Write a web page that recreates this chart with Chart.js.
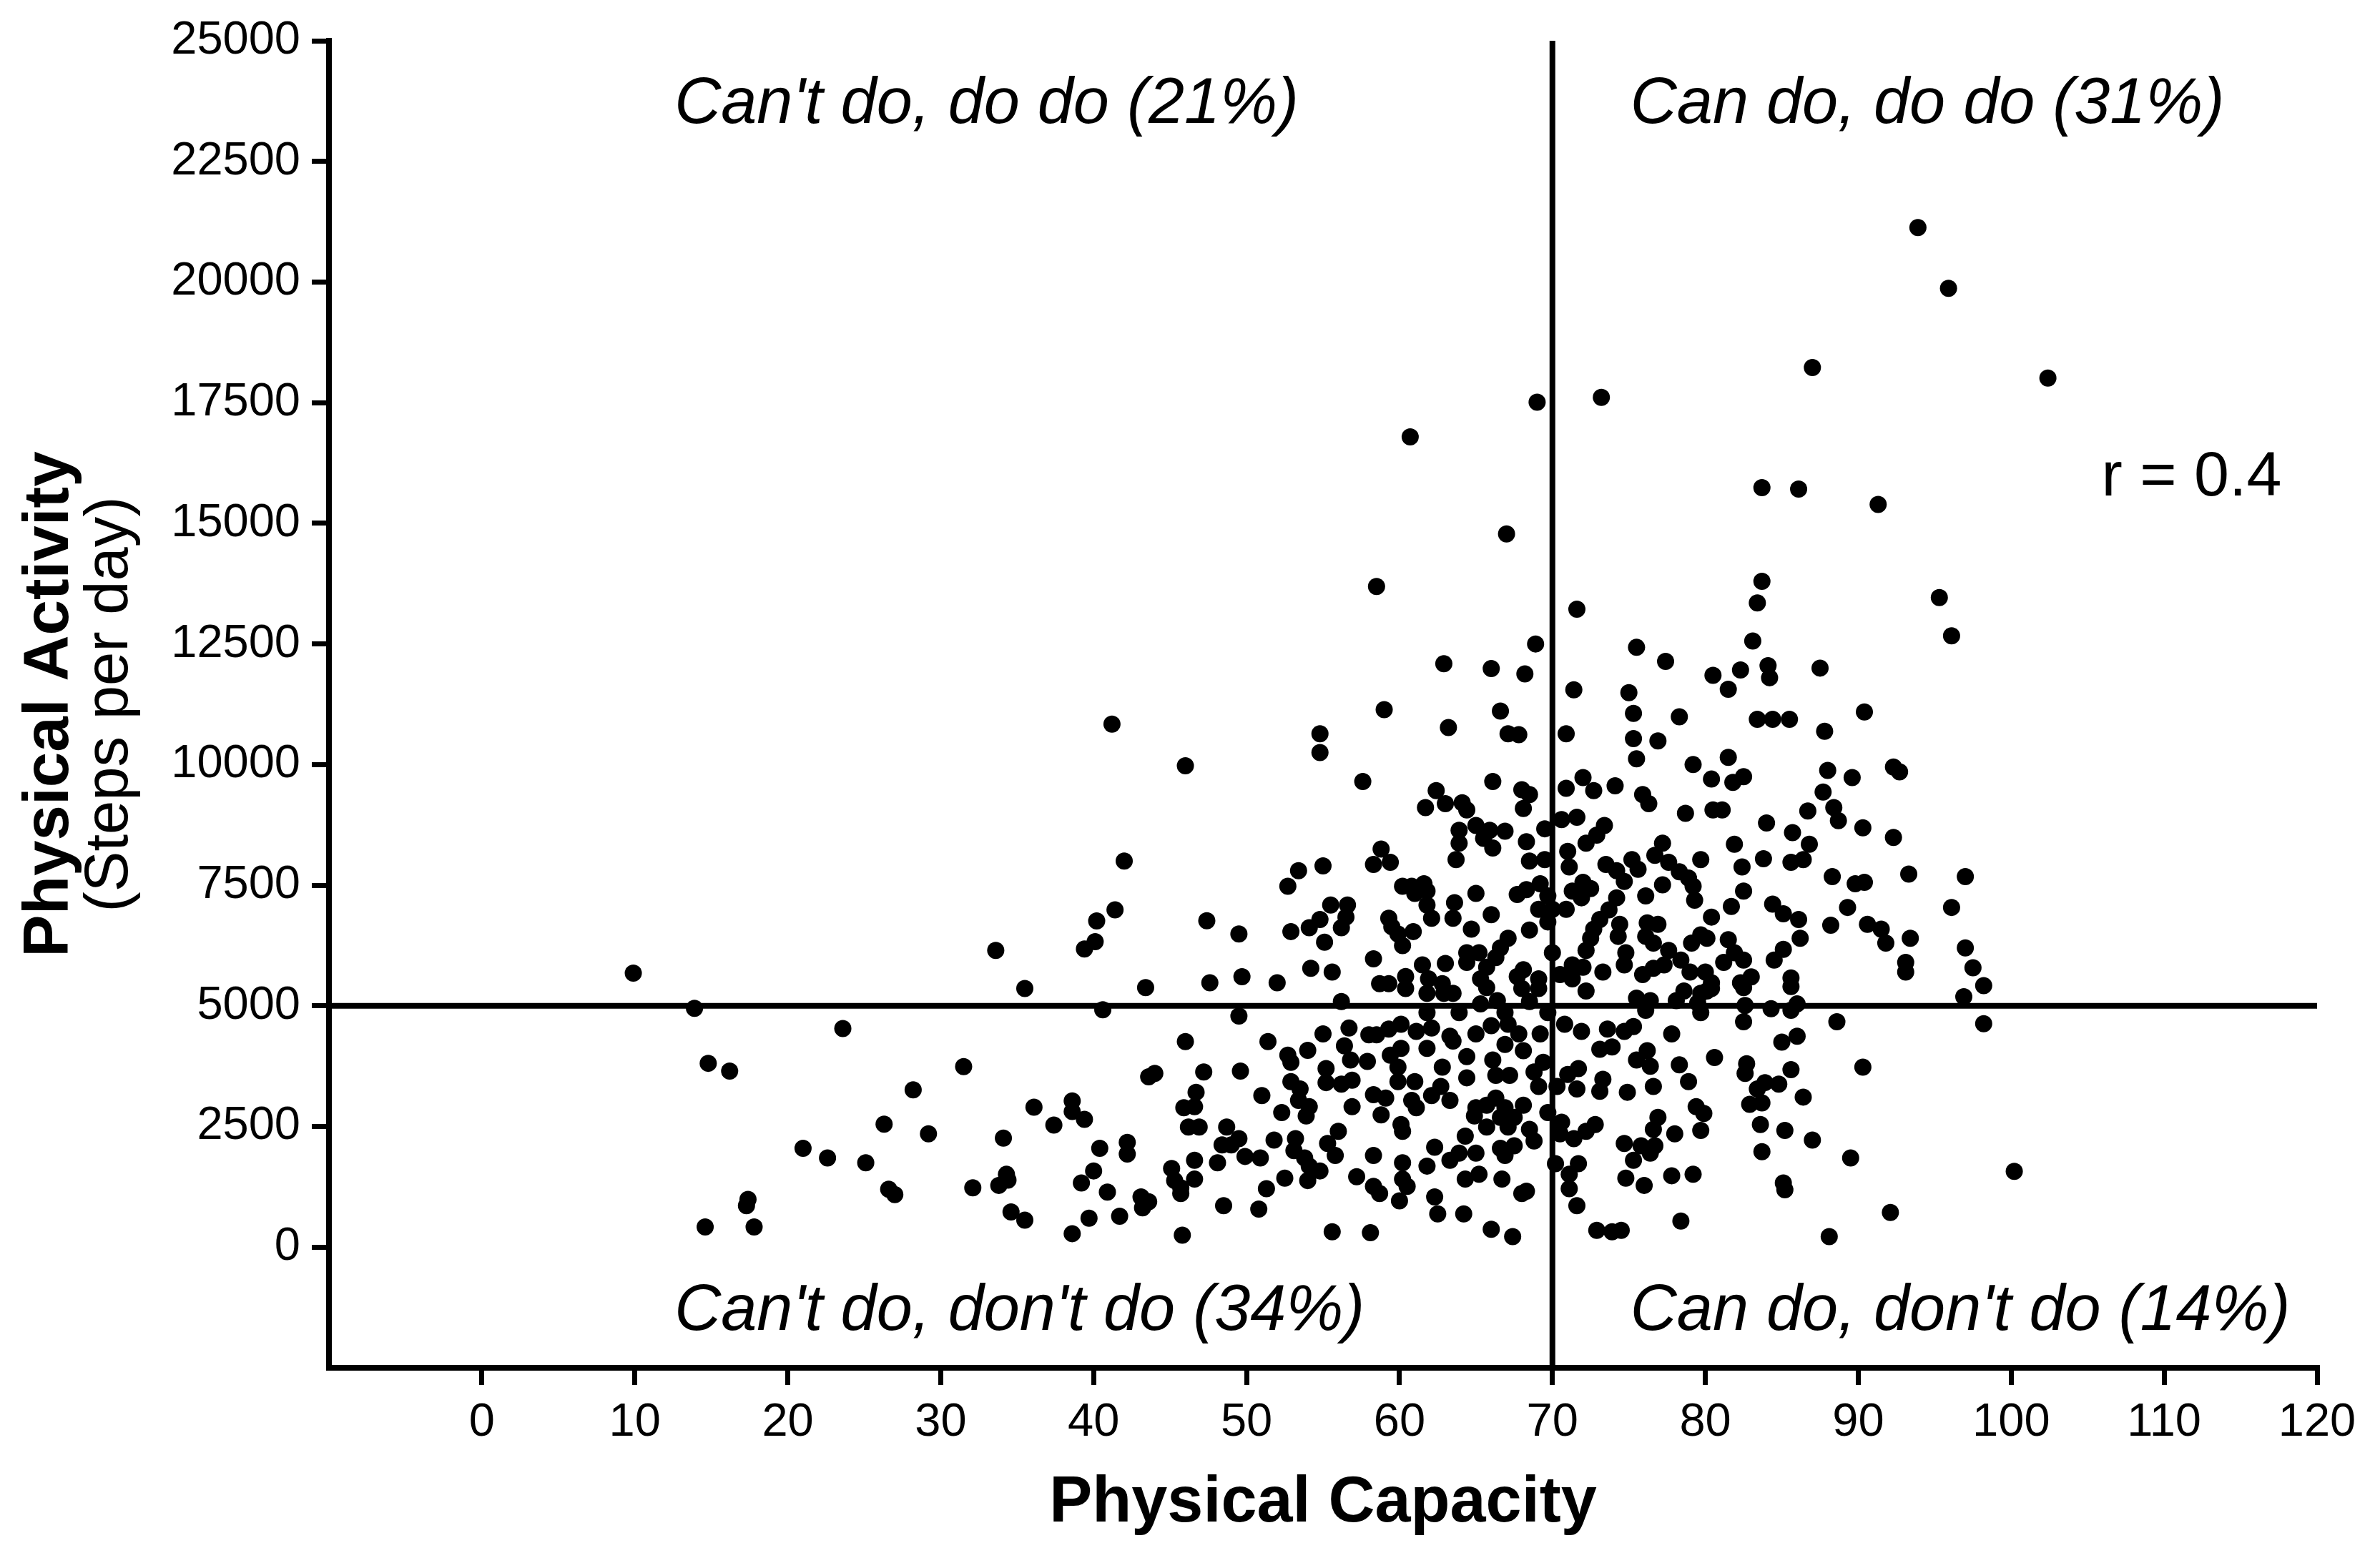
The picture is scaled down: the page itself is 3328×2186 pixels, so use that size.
<!DOCTYPE html>
<html lang="en">
<head>
<meta charset="UTF-8">
<title>Physical Capacity vs Physical Activity</title>
<style>
  body {
    margin: 0;
    padding: 0;
    background: #fff;
  }
  .chart-box {
    width: 3328px;
    height: 2186px;
  }
</style>
</head>
<body>
<div class="chart-box">
  <canvas id="capacityChart"></canvas>
</div>

<script src="https://cdn.jsdelivr.net/npm/chart.js"></script>
<script>
  // [physical capacity, steps per day]
  const sparseLeft = [
    [9.9,5680],[13.9,4950],[14.8,3810],[16.2,3650],[23.6,4530],[31.5,3740],[33.6,6150],[35.5,5360],
    [39.4,6180],[40.1,6330],[40.2,6760],[40.6,4920],[28.2,3260],[36.1,2900],[38.6,3030],[38.6,2810],
    [39.4,2650],[37.4,2530],[26.3,2550],[29.2,2350],[21.0,2050],[22.6,1850],[25.1,1750],[34.1,2260],
    [40.4,2050],[40.0,1580],[39.2,1330],[40.9,1140],[34.3,1510],[34.4,1390],[33.8,1280],[32.1,1230],
    [26.6,1200],[27.0,1090],[17.4,990],[17.3,860],[14.6,420],[17.8,420],[34.6,730],[35.5,560],
    [39.7,600],[38.6,280]
  ];

  const lowerLeft = [
    [56.2,5090],[49.5,4790],[46.0,4260],[51.4,4260],[55.0,4420],[56.7,4540],[58.0,4400],[58.5,4400],
    [59.3,4520],[56.4,4170],[54.0,4080],[52.7,3980],[52.9,3830],[56.8,3880],[57.9,3850],[59.4,3980],
    [43.6,3530],[44.0,3600],[47.2,3630],[49.6,3650],[55.2,3700],[55.2,3410],[56.2,3380],[56.9,3460],
    [52.9,3430],[53.5,3280],[46.7,3210],[51.0,3140],[45.9,2890],[46.6,2910],[52.3,2790],[53.4,3040],
    [54.1,2910],[53.9,2720],[56.9,2910],[58.3,3160],[59.1,3090],[58.8,2740],[46.2,2490],[46.9,2490],
    [48.7,2490],[42.2,2170],[42.2,1930],[49.5,2250],[48.4,2120],[49.0,2120],[51.8,2220],[53.2,2250],
    [56.0,2400],[55.3,2150],[49.9,1880],[50.9,1850],[48.1,1750],[53.1,2000],[53.8,1850],[55.8,1900],
    [46.6,1800],[45.1,1630],[45.3,1380],[45.7,1230],[46.6,1410],[45.7,1110],[54.1,1680],[54.8,1580],
    [54.0,1380],[52.5,1430],[51.3,1210],[58.3,1900],[57.2,1460],[58.3,1260],[58.7,1110],[43.1,1040],
    [43.6,940],[43.2,815],[41.7,640],[48.5,860],[50.8,790],[45.8,250],[55.6,320],[58.1,300]
  ];

  const upperLeft = [
    [41.2,10840],[46.0,9975],[54.8,10640],[54.8,10250],[59.0,11140],[57.6,9650],[42.0,8000],[41.4,6990],
    [47.4,6765],[49.5,6490],[53.4,7800],[55.0,7900],[52.7,7480],[58.8,8250],[58.3,7930],[59.4,7975],
    [55.5,7090],[56.6,7090],[54.8,6790],[56.5,6840],[54.1,6620],[56.2,6620],[52.9,6540],[55.1,6320],
    [59.3,6815],[59.5,6640],[58.3,5975],[54.2,5780],[55.6,5700],[47.6,5480],[49.7,5605],[52.0,5480],
    [58.7,5460],[59.3,5460],[43.4,5380]
  ];

  const lowerCentre = [
    [60.4,5360],[61.8,5260],[62.9,5260],[63.5,5260],[65.7,5380],[68.0,5360],[69.1,5360],[72.2,5310],
    [75.5,5160],[76.4,5110],[78.1,5110],[65.3,5040],[66.4,5110],[68.5,5090],[61.8,4860],[63.9,4860],
    [66.9,4860],[69.7,4860],[76.1,4910],[60.1,4620],[61.1,4470],[62.1,4540],[63.3,4370],[65.0,4420],
    [66.0,4590],[67.1,4620],[67.8,4420],[69.2,4420],[70.8,4620],[71.9,4470],[73.6,4520],[74.7,4470],
    [75.3,4570],[77.8,4420],[60.1,4120],[61.8,4120],[63.5,4270],[64.4,3950],[66.9,4200],[68.1,4070],
    [73.1,4100],[73.9,4150],[76.2,4070],[75.5,3880],[62.8,3730],[66.1,3880],[66.3,3560],[67.2,3560],
    [68.8,3630],[69.4,3830],[71.0,3580],[71.7,3700],[64.4,3510],[59.9,3730],[59.9,3430],[73.3,3480],
    [76.4,3750],[76.6,3330],[78.3,3780],[61.0,3430],[62.7,3330],[73.1,3230],[74.9,3210],[69.1,3330],
    [70.3,3330],[71.6,3280],[60.8,3040],[62.1,3140],[63.3,3040],[61.1,2890],[65.0,2890],[66.3,3090],
    [65.7,2940],[66.9,2890],[68.1,2940],[64.9,2720],[66.6,2690],[67.5,2690],[65.7,2490],[67.1,2490],
    [68.5,2440],[69.7,2790],[70.6,2590],[70.5,2350],[71.4,2250],[72.2,2400],[72.8,2540],[68.8,2200],
    [67.5,2100],[66.6,2050],[66.9,1900],[60.1,2540],[60.2,2400],[64.3,2300],[62.3,2070],[63.9,1950],
    [63.3,1800],[65.0,1950],[76.9,2690],[76.6,2440],[78.0,2350],[74.7,2150],[75.8,2100],[76.7,2100],
    [75.3,1800],[76.4,1950],[70.2,1730],[71.7,1730],[71.1,1510],[71.1,1210],[71.6,860],[60.2,1750],
    [61.8,1680],[60.2,1410],[60.5,1260],[60.0,960],[64.3,1410],[65.2,1510],[66.7,1410],[68.0,1110],
    [68.3,1160],[62.3,1040],[62.5,690],[64.2,690],[66.0,370],[67.4,220],[74.8,1430],[76.0,1280],
    [77.8,1480],[72.9,350],[73.9,320],[74.5,350],[78.4,540]
  ];

  const lowerRight = [
    [78.6,5310],[79.7,5260],[80.1,5310],[80.4,5360],[79.7,4860],[79.5,5060],[82.5,5380],[82.6,5010],
    [82.5,4670],[84.3,4940],[85.6,4910],[86.0,5040],[85.6,5400],[96.9,5190],[88.6,4670],[85.0,4250],
    [86.0,4370],[80.6,3930],[82.7,3800],[82.6,3600],[85.6,3680],[90.3,3730],[78.9,3430],[83.4,3280],
    [83.9,3410],[84.8,3380],[82.9,2960],[83.7,2990],[86.4,3110],[79.4,2910],[79.9,2770],[79.7,2420],
    [83.6,2540],[85.2,2420],[87.0,2220],[83.7,1980],[89.5,1850],[79.2,1510],[85.1,1330],[85.2,1190],
    [92.1,720],[88.1,220],[97.5,5790],[98.2,5420],[98.2,4630],[100.2,1570]
  ];

  const upperCentre = [
    [66.6,11110],[63.2,10770],[67.1,10640],[67.8,10620],[70.9,10640],[75.3,11060],[75.3,10540],[76.9,10490],
    [75.5,10120],[66.1,9650],[68.0,9480],[68.5,9380],[68.1,9090],[62.4,9460],[61.7,9110],[63.0,9190],
    [64.1,9210],[64.4,9060],[72.0,9730],[70.9,9510],[72.7,9460],[74.1,9560],[75.9,9380],[76.3,9190],
    [63.9,8640],[65.0,8740],[65.9,8640],[66.9,8620],[65.5,8470],[66.1,8270],[63.9,8370],[63.7,8030],
    [68.3,8400],[69.5,8670],[70.6,8860],[71.6,8910],[73.4,8740],[72.9,8540],[72.2,8370],[71.0,8200],
    [71.1,7880],[68.5,8000],[69.5,8030],[77.2,8370],[76.7,8120],[77.6,7975],[78.3,7780],[73.5,7930],
    [74.2,7800],[75.2,8030],[75.6,7830],[60.2,7480],[60.8,7480],[61.6,7530],[61.0,7330],[61.8,7380],
    [61.8,7090],[62.1,6815],[63.6,7140],[63.5,6815],[65.0,7330],[66.0,6890],[64.7,6590],[67.7,7310],
    [68.3,7410],[69.2,7530],[69.7,7280],[69.1,7000],[70.0,7000],[70.9,7000],[69.7,6740],[68.5,6570],
    [71.3,7380],[72.0,7560],[72.5,7430],[71.9,7240],[74.2,7240],[73.7,6990],[74.4,6690],[73.1,6790],
    [72.7,6590],[74.7,7580],[76.1,7280],[77.2,7510],[76.2,6720],[76.9,6690],[76.1,6440],[76.6,6300],
    [77.6,6150],[77.3,5850],[76.6,5780],[75.9,5650],[74.8,6100],[74.7,5850],[73.3,5700],[74.3,6440],
    [72.5,6400],[72.2,6150],[72.0,5800],[71.3,5850],[71.3,5560],[70.0,6100],[70.5,5650],[69.1,5560],
    [68.1,5750],[67.7,5610],[67.1,6400],[66.6,6200],[66.3,6000],[65.7,5800],[65.2,6100],[64.4,6100],
    [64.4,5900],[65.3,5560],[63.0,5880],[61.5,5850],[60.4,5610],[61.9,5560],[62.8,5460],[59.9,6490],
    [60.9,6540],[60.2,6250]
  ];

  const upperRight = [
    [78.3,10990],[83.4,10940],[84.4,10940],[85.5,10940],[87.8,10690],[90.4,11090],[81.5,10150],[79.2,10000],
    [80.4,9700],[81.8,9630],[82.5,9750],[88.0,9880],[89.6,9730],[92.3,9950],[92.7,9850],[87.7,9430],
    [78.7,8990],[80.5,9060],[81.1,9060],[86.7,9040],[88.4,9110],[88.7,8840],[84.0,8790],[90.3,8690],
    [92.3,8490],[85.7,8590],[86.8,8350],[81.9,8350],[79.7,8030],[83.8,8050],[85.6,7975],[86.4,8030],
    [82.4,7880],[78.9,7650],[79.2,7480],[79.3,7190],[88.3,7680],[89.8,7530],[90.4,7560],[93.3,7730],
    [97.0,7680],[82.5,7380],[81.7,7060],[80.4,6840],[84.4,7110],[85.1,6910],[86.1,6790],[89.3,7040],
    [96.1,7040],[88.2,6670],[90.6,6690],[91.5,6590],[91.8,6300],[93.4,6400],[97.0,6200],[86.2,6400],
    [79.7,6470],[79.1,6300],[80.1,6400],[81.5,6370],[81.9,6100],[82.5,5950],[81.2,5900],[78.4,5950],
    [85.1,6170],[84.5,5950],[93.1,5900],[93.1,5700],[79.0,5700],[80.0,5700],[80.4,5480],[83.0,5600],
    [82.3,5480],[85.6,5580]
  ];

  const highActivity = [
    [69.0,17510],[73.2,17610],[60.7,16790],[67.0,14780],[58.5,13690],[71.6,13220],[68.9,12500],[62.9,12090],
    [66.0,11990],[68.2,11880],[71.4,11550],[95.9,19870],[87.0,18230],[83.7,15740],[86.1,15710],[91.3,15390],
    [83.7,13800],[83.4,13350],[95.3,13460],[96.1,12670],[83.1,12560],[75.5,12430],[77.4,12140],[80.5,11850],
    [82.3,11960],[84.1,12050],[84.2,11800],[87.5,12000],[81.5,11560],[75.0,11490],[93.9,21130],[102.4,18010]
  ];

  const xTicks = [0, 10, 20, 30, 40, 50, 60, 70, 80, 90, 100, 110, 120];
  const yTicks = [0, 2500, 5000, 7500, 10000, 12500, 15000, 17500, 20000, 22500, 25000];
  const xRange = [-10, 120];
  const yRange = [-2500, 25000];

  // quadrant split: capacity 70, 5000 steps per day
  const cutCapacity = 70;
  const cutSteps = 5000;

  const quadrantLabels = [
    "Can't do, do do (21%)",
    'Can do, do do (31%)',
    "Can't do, don't do (34%)",
    "Can do, don't do (14%)"
  ];
  const corrLabel = 'r = 0.4';
  const xTitle = 'Physical Capacity';
  const yTitle = 'Physical Activity';
  const ySubTitle = '(Steps per day)';

  const FONT = "'Liberation Sans', Arial, sans-serif";

  const subjects = [].concat(sparseLeft, lowerLeft, upperLeft, lowerCentre,
    lowerRight, upperCentre, upperRight, highActivity).map(p => ({ x: p[0], y: p[1] }));

  // texts that sit inside and around the plot
  const textPlugin = {
    id: 'figureText',
    afterDraw(chart) {
      const { ctx, chartArea } = chart;
      const x = chart.scales.x;
      const y = chart.scales.y;
      ctx.save();
      ctx.fillStyle = '#000';

      ctx.font = 'italic 90px ' + FONT;
      ctx.textAlign = 'left';
      ctx.textBaseline = 'alphabetic';
      const leftX = x.getPixelForValue(12.6);
      const rightX = x.getPixelForValue(75.1);
      const topY = y.getPixelForValue(23300);
      const botY = y.getPixelForValue(-1720);
      ctx.fillText(quadrantLabels[0], leftX, topY);
      ctx.fillText(quadrantLabels[1], rightX, topY);
      ctx.fillText(quadrantLabels[2], leftX, botY);
      ctx.fillText(quadrantLabels[3], rightX, botY);

      ctx.font = '88px ' + FONT;
      ctx.fillText(corrLabel, x.getPixelForValue(105.9), y.getPixelForValue(15570));

      // axis titles
      const midX = (chartArea.left + chartArea.right) / 2;
      const midY = (chartArea.top + chartArea.bottom) / 2;
      ctx.textAlign = 'center';
      ctx.font = 'bold 90px ' + FONT;
      ctx.fillText(xTitle, midX, 2128);

      ctx.save();
      ctx.translate(95, midY);
      ctx.rotate(-Math.PI / 2);
      ctx.font = 'bold 89px ' + FONT;
      ctx.fillText(yTitle, 0, 0);
      ctx.restore();

      ctx.save();
      ctx.translate(178, midY);
      ctx.rotate(-Math.PI / 2);
      ctx.font = '85px ' + FONT;
      ctx.fillText(ySubTitle, 0, 0);
      ctx.restore();

      ctx.restore();
    }
  };

  const axisStyle = {
    grid: {
      drawOnChartArea: false,
      drawTicks: true,
      tickLength: 24,
      tickWidth: 7,
      lineWidth: 7,
      color: '#000',
      tickColor: '#000'
    },
    border: { display: true, color: '#000', width: 8 },
  };

  const capacityChart = new Chart(
    document.getElementById('capacityChart'),
    {
      type: 'scatter',
      data: {
        datasets: [{
          label: 'Subjects',
          data: subjects,
          pointRadius: 12,
          pointHoverRadius: 12,
          backgroundColor: '#000',
          borderWidth: 0
        }, {
          label: 'Steps cut-off',
          data: [{ x: xRange[0], y: cutSteps }, { x: xRange[1], y: cutSteps }],
          showLine: true,
          borderColor: '#000',
          borderWidth: 8,
          pointRadius: 0
        }, {
          label: 'Capacity cut-off',
          data: [{ x: cutCapacity, y: yRange[0] }, { x: cutCapacity, y: yRange[1] }],
          showLine: true,
          borderColor: '#000',
          borderWidth: 8,
          pointRadius: 0
        }]
      },
      options: {
        responsive: true,
        maintainAspectRatio: false,
        animation: false,
        devicePixelRatio: 1,
        layout: {
          padding: { top: 57, right: 88, bottom: 0, left: 0 }
        },
        plugins: {
          legend: { display: false },
          tooltip: { enabled: false }
        },
        scales: {
          x: {
            type: 'linear',
            min: xRange[0],
            max: xRange[1],
            afterBuildTicks: scale => { scale.ticks = xTicks.map(v => ({ value: v })); },
            afterFit: scale => { scale.height = 273; },
            ...axisStyle,
            ticks: {
              font: { family: FONT, size: 65 },
              color: '#000',
              padding: 14,
              maxRotation: 0,
              autoSkip: false
            }
          },
          y: {
            type: 'linear',
            min: yRange[0],
            max: yRange[1],
            afterBuildTicks: scale => { scale.ticks = yTicks.map(v => ({ value: v })); },
            afterFit: scale => { scale.width = 460; },
            ...axisStyle,
            ticks: {
              font: { family: FONT, size: 65 },
              color: '#000',
              padding: 16,
              autoSkip: false,
              callback: v => String(v)
            }
          }
        }
      },
      plugins: [textPlugin]
    }
  );
</script>
</body>
</html>
